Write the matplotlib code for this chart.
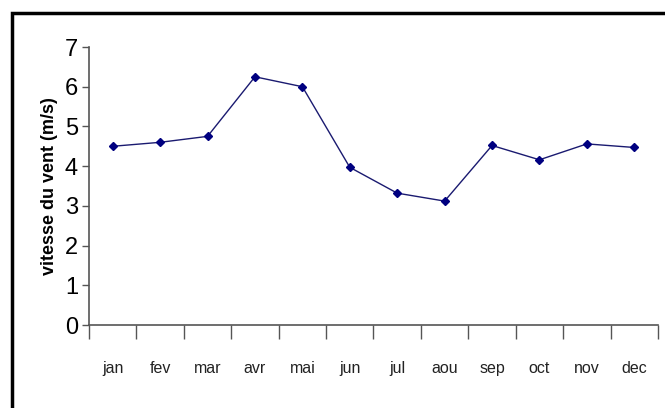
import matplotlib.pyplot as plt
from matplotlib.patches import Rectangle
from matplotlib.ticker import FixedLocator, NullFormatter

# vitesse moyenne mensuelle du vent
mois = ["jan", "fev", "mar", "avr", "mai", "jun", "jul", "aou", "sep", "oct", "nov", "dec"]
vitesse = [4.5, 4.6, 4.75, 6.25, 6.0, 3.97, 3.32, 3.12, 4.52, 4.16, 4.56, 4.47]

plt.rcParams['font.family'] = ['Liberation Sans', 'DejaVu Sans']

fig = plt.figure(figsize=(6.65, 4.08), dpi=100)
fig.patches.append(Rectangle((12 / 665, -0.1), 1.2, 1 - 13 / 408 + 0.1,
                             transform=fig.transFigure, fill=False,
                             edgecolor='black', linewidth=2.5))

ax = fig.add_axes([89 / 665, 1 - 325 / 408, (658 - 89) / 665, (325 - 47) / 408])
x = list(range(len(mois)))
ax.plot(x, vitesse, color='#1a1a70', linewidth=1.0, marker='D', markersize=4,
        markerfacecolor='#000080', markeredgecolor='#000080')

ax.set_xlim(-0.5, len(mois) - 0.5)
ax.set_ylim(0, 7)
ax.set_yticks(range(0, 8))
ax.tick_params(axis='y', labelsize=17, length=5, width=1, color='#555555', pad=3)

# graduations entre les mois, noms au centre
ax.xaxis.set_major_locator(FixedLocator([i - 0.5 for i in range(len(mois) + 1)]))
ax.xaxis.set_major_formatter(NullFormatter())
ax.xaxis.set_minor_locator(FixedLocator(x))
ax.set_xticklabels(mois, minor=True)
ax.tick_params(axis='x', which='major', length=10, width=1, color='#555555')
ax.tick_params(axis='x', which='minor', length=0, pad=26, labelsize=11.5, labelcolor='#222222')

for side in ['top', 'right']:
    ax.spines[side].set_visible(False)
for side in ['left', 'bottom']:
    ax.spines[side].set_color('#555555')
    ax.spines[side].set_linewidth(1.2)

ax.set_ylabel("vitesse du vent (m/s)", fontsize=13, fontweight='bold', labelpad=5)

fig.savefig("out.png", dpi=100)
